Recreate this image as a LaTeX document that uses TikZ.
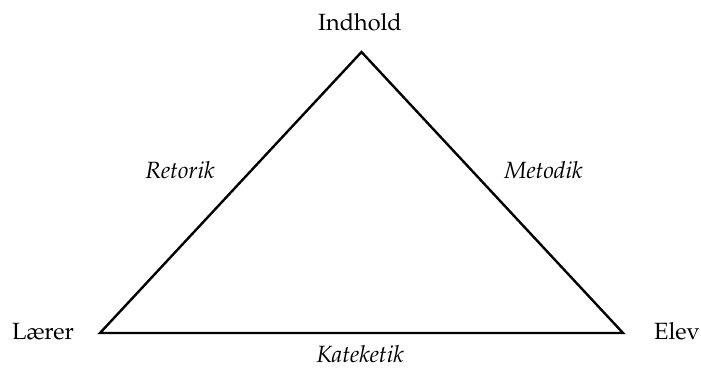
\documentclass[tikz,border=0pt]{standalone}
\usepackage[T1]{fontenc}
\usepackage{mathpazo}
\begin{document}
\begin{tikzpicture}[x=1pt,y=-1pt,
  lbl/.style={anchor=base,inner sep=0pt,font=\fontsize{23.5}{28}\selectfont},
  ilbl/.style={lbl,font=\fontsize{23.5}{28}\selectfont\itshape},
  tri/.style={line width=2.4pt,line join=miter}]
\useasboundingbox (0,0) rectangle (701,369);
\coordinate (top) at (361.5,52);
\coordinate (left) at (100,333);
\coordinate (right) at (623,333);
\draw[tri] (top) -- (right) -- (left) -- cycle;
\node[lbl] (indhold) at (360,31) {Indhold};
\node[lbl] (laerer) at (43,339) {L\ae rer};
\node[lbl] (elev) at (677,339) {Elev};
\node[ilbl] (retorik) at (180,178) {Retorik};
\node[ilbl] (metodik) at (543.5,178) {Metodik};
\node[ilbl] (kateketik) at (360,362) {Kateketik};
\end{tikzpicture}
\end{document}
